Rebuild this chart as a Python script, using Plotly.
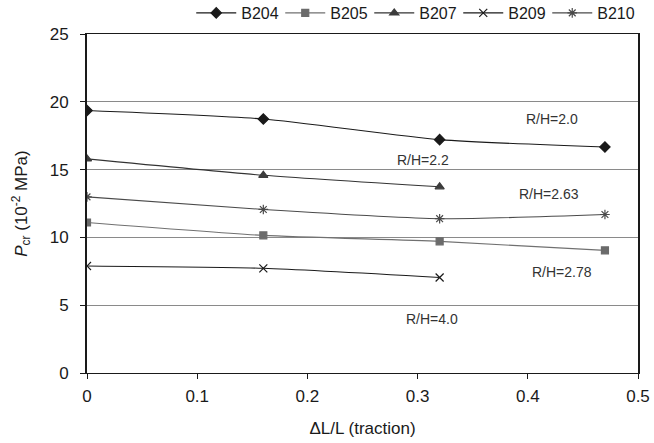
import plotly.graph_objects as go

strain = [0, 0.16, 0.32, 0.47]
b204 = [19.36, 18.73, 17.21, 16.67]
b205 = [11.10, 10.15, 9.71, 9.04]
b207 = [15.79, 14.58, 13.73]
b209 = [7.89, 7.72, 7.04]
b210 = [12.99, 12.06, 11.38, 11.69]

labels = ["R/H=2.0", "R/H=2.2", "R/H=2.63", "R/H=2.78", "R/H=4.0"]
label_x = [0.422, 0.305, 0.419, 0.431, 0.313]
label_y = [18.7, 15.7, 13.2, 7.45, 3.95]

series = [
    ("B204", strain, b204, "diamond", "#1a1a1a", "#1a1a1a", 8),
    ("B205", strain, b205, "square", "#6b6b6b", "#707070", 7),
    ("B207", strain[:3], b207, "triangle-up", "#3c3c3c", "#333333", 8),
    ("B209", strain[:3], b209, "x-thin-open", "#1a1a1a", "#1a1a1a", 8),
    ("B210", strain, b210, "asterisk-open", "#4a4a4a", "#4a4a4a", 8),
]

fig = go.Figure()
for name, xs, ys, sym, mcol, lcol, msize in series:
    fig.add_trace(go.Scatter(
        x=xs, y=ys, name=name, mode="lines+markers",
        line=dict(color=lcol, width=1.1, shape="spline", smoothing=0.6),
        marker=dict(symbol=sym, size=msize, color=mcol,
                    line=dict(color=mcol, width=1.2)),
    ))

for t, x, y in zip(labels, label_x, label_y):
    fig.add_annotation(x=x, y=y, text=t, showarrow=False,
                       font=dict(family="Liberation Sans, Arial", size=14, color="#333333"))

fig.update_layout(
    width=654, height=443,
    margin=dict(l=87, r=16, t=34, b=70, autoexpand=False),
    paper_bgcolor="white", plot_bgcolor="white",
    font=dict(family="Liberation Sans, Arial", size=17, color="#1a1a1a"),
    showlegend=True,
    legend=dict(orientation="h", x=0.593, xanchor="center", y=1.062, yanchor="middle",
                font=dict(size=16), itemwidth=40, bgcolor="rgba(0,0,0,0)",
                tracegroupgap=0, entrywidth=34),
    xaxis=dict(range=[0, 0.5], dtick=0.1, tick0=0, showgrid=False, zeroline=False,
               showline=True, linecolor="#1a1a1a", linewidth=1, mirror=True,
               ticks="outside", ticklen=5, tickcolor="#1a1a1a", ticklabelstandoff=3,
               title=dict(text="ΔL/L (traction)", font=dict(size=17), standoff=16)),
    yaxis=dict(range=[0, 25], dtick=5, tick0=0, showgrid=True, gridcolor="#8a8a8a",
               gridwidth=1, zeroline=False,
               showline=True, linecolor="#1a1a1a", linewidth=2, mirror=True,
               ticks="outside", ticklen=5, tickcolor="#1a1a1a", ticklabelstandoff=8,
               title=dict(text="<i>P</i><sub>cr</sub> (10<sup>-2</sup> MPa)",
                          font=dict(size=17), standoff=18)),
)

fig.write_html("out.html")
